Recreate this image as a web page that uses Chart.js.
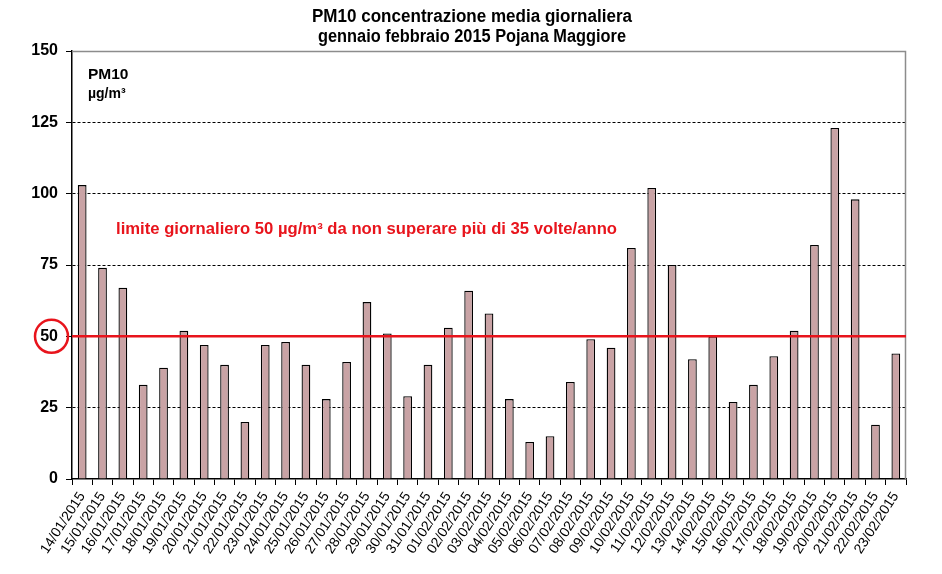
<!DOCTYPE html>
<html>
<head>
<meta charset="utf-8">
<script src="https://cdn.jsdelivr.net/npm/chart.js@4/dist/chart.umd.min.js"></script>
<style>
    html, body { margin: 0; padding: 0; background: #ffffff; }
    #wrap { width: 942px; height: 574px; }
</style>
</head>
<body>
<div id="wrap"><canvas id="chart" width="942" height="574"></canvas></div>
<script>
// daily dates and PM10 values
let days = [
    '14/01/2015', '15/01/2015', '16/01/2015', '17/01/2015', '18/01/2015', '19/01/2015',
    '20/01/2015', '21/01/2015', '22/01/2015', '23/01/2015', '24/01/2015', '25/01/2015',
    '26/01/2015', '27/01/2015', '28/01/2015', '29/01/2015', '30/01/2015', '31/01/2015',
    '01/02/2015', '02/02/2015', '03/02/2015', '04/02/2015', '05/02/2015', '06/02/2015',
    '07/02/2015', '08/02/2015', '09/02/2015', '10/02/2015', '11/02/2015', '12/02/2015',
    '13/02/2015', '14/02/2015', '15/02/2015', '16/02/2015', '17/02/2015', '18/02/2015',
    '19/02/2015', '20/02/2015', '21/02/2015', '22/02/2015', '23/02/2015'
];
let pm10 = [
    103, 74, 67, 33, 39, 52, 47, 40, 20, 47, 48, 40,
    28, 41, 62, 51, 29, 40, 53, 66, 58, 28, 13, 15,
    34, 49, 46, 81, 102, 75, 42, 50, 27, 33, 43, 52,
    82, 123, 98, 19, 44
];
let yTicks = [0, 25, 50, 75, 100, 125, 150];
let limitValue = 50;

let titleLines = ['PM10 concentrazione media giornaliera', 'gennaio febbraio 2015 Pojana Maggiore'];
let limitText = 'limite giornaliero 50 µg/m³ da non superare più di 35 volte/anno';

// draw text squeezed to a given width (the original uses a narrow font)
function narrowText(ctx, text, x, y, width) {
    let w = ctx.measureText(text).width;
    ctx.save();
    ctx.translate(x, y);
    ctx.scale(width / w, 1);
    ctx.fillText(text, 0, 0);
    ctx.restore();
}

// extra drawing: frame, limit line, circled label, texts
let decorations = {
    id: 'decorations',
    beforeDatasetsDraw: function(chart) {
        let ctx = chart.ctx;
        let area = chart.chartArea;
        ctx.save();
        ctx.strokeStyle = '#8c8c8c';
        ctx.lineWidth = 1.5;
        ctx.beginPath();
        ctx.moveTo(area.left, area.top + 0.5);
        ctx.lineTo(area.right - 0.5, area.top + 0.5);
        ctx.lineTo(area.right - 0.5, area.bottom);
        ctx.stroke();
        ctx.restore();
    },
    afterDatasetsDraw: function(chart) {
        let ctx = chart.ctx;
        let area = chart.chartArea;
        let y = chart.scales.y;
        let yl = y.getPixelForValue(limitValue);

        ctx.save();
        ctx.strokeStyle = '#e8141c';
        ctx.lineWidth = 2.5;
        ctx.beginPath();
        ctx.moveTo(area.left, yl);
        ctx.lineTo(area.right, yl);
        ctx.stroke();

        // circle round the 50 tick label
        ctx.lineWidth = 2.5;
        ctx.beginPath();
        ctx.arc(51.5, yl, 16.5, 0, Math.PI * 2);
        ctx.stroke();

        ctx.fillStyle = '#e8141c';
        ctx.font = 'bold 16.5px "Liberation Sans", Arial, sans-serif';
        ctx.textBaseline = 'middle';
        ctx.textAlign = 'left';
        narrowText(ctx, limitText, 116, y.getPixelForValue(87.6), 501);

        ctx.fillStyle = '#000000';
        ctx.font = 'bold 15.5px "Liberation Sans", Arial, sans-serif';
        ctx.fillText('PM10', 88, 75);
        ctx.font = 'bold 14px "Liberation Sans", Arial, sans-serif';
        ctx.fillText('µg/m³', 88, 94);

        ctx.font = 'bold 18px "Liberation Sans", Arial, sans-serif';
        ctx.textAlign = 'left';
        narrowText(ctx, titleLines[0], 312, 17, 320);
        narrowText(ctx, titleLines[1], 318, 37, 308);
        ctx.restore();
    }
};

let chart = new Chart(document.getElementById('chart').getContext('2d'), {
    type: 'bar',
    data: {
        labels: days,
        datasets: [{
            label: 'PM10',
            data: pm10,
            backgroundColor: '#c9a3a5',
            borderColor: '#000000',
            borderWidth: 1.3,
            barPercentage: 0.43,
            categoryPercentage: 1.0
        }]
    },
    options: {
        responsive: false,
        animation: false,
        layout: { padding: { top: 51, right: 36, left: 0, bottom: 0 } },
        plugins: {
            legend: { display: false },
            title: { display: false },
            tooltip: { enabled: false }
        },
        scales: {
            x: {
                offset: true,
                afterFit: function(scale) { scale.height = 95; },
                grid: {
                    offset: true,
                    drawOnChartArea: false,
                    color: '#000000',
                    tickLength: 6
                },
                border: { color: '#000000', width: 1.5 },
                ticks: {
                    autoSkip: false,
                    maxRotation: 57,
                    minRotation: 57,
                    padding: 4,
                    color: '#000000',
                    font: { family: '"Liberation Sans", Arial, sans-serif', size: 14 }
                }
            },
            y: {
                min: 0,
                max: 150,
                afterFit: function(scale) { scale.width = 72; },
                afterBuildTicks: function(scale) {
                    scale.ticks = yTicks.map(function(v) { return { value: v }; });
                },
                grid: {
                    color: function(c) {
                        let v = c.tick ? c.tick.value : null;
                        return (v === 0 || v === 150) ? 'rgba(0,0,0,0)' : '#000000';
                    },
                    tickColor: '#000000',
                    tickLength: 6,
                    lineWidth: 1,
                    tickBorderDash: []
                },
                border: { color: '#000000', width: 1.5, dash: [3, 2] },
                ticks: {
                    padding: 8,
                    color: '#000000',
                    font: { family: '"Liberation Sans", Arial, sans-serif', size: 16, weight: 'bold' }
                }
            }
        }
    },
    plugins: [decorations]
});
</script>
</body>
</html>
